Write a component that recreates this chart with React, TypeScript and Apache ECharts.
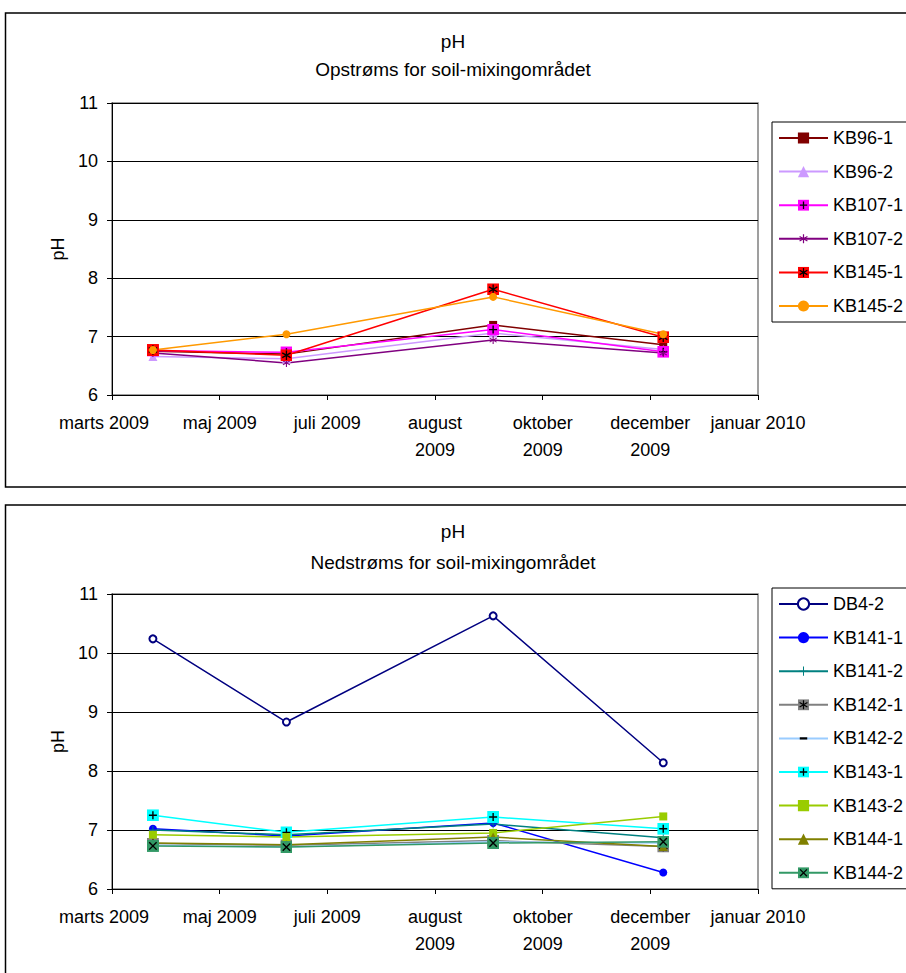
import React, { useEffect, useRef } from 'react';
import * as echarts from 'echarts';

// ---- data ----
const axisStartDate = '2009-03-31';
const tickIntervalDays = 50;
const xTickLabels = ['marts 2009', 'maj 2009', 'juli 2009', 'august\n2009', 'oktober\n2009', 'december\n2009', 'januar 2010'];
const sampleDates = ['2009-04-19', '2009-06-20', '2009-09-24', '2009-12-12'];
const yMin = 6;
const yMax = 11;

const topTitle = 'pH';
const topSubtitle = 'Opstrøms for soil-mixingområdet';
const bottomTitle = 'pH';
const bottomSubtitle = 'Nedstrøms for soil-mixingområdet';
const yAxisName = 'pH';

const topNames = ['KB96-1', 'KB96-2', 'KB107-1', 'KB107-2', 'KB145-1', 'KB145-2'];
const KB96_1 = [6.75, 6.70, 7.20, 6.86];
const KB96_2 = [6.66, 6.62, 7.06, 6.78];
const KB107_1 = [6.76, 6.73, 7.12, 6.74];
const KB107_2 = [6.72, 6.55, 6.94, 6.72];
const KB145_1 = [6.77, 6.68, 7.81, 6.99];
const KB145_2 = [6.77, 7.04, 7.68, 7.04];

const bottomNames = ['DB4-2', 'KB141-1', 'KB141-2', 'KB142-1', 'KB142-2', 'KB143-1', 'KB143-2', 'KB144-1', 'KB144-2'];
const DB4_2 = [10.24, 8.83, 10.63, 8.14];
const KB141_1 = [7.02, 6.90, 7.12, 6.28];
const KB141_2 = [7.00, 6.92, 7.10, 6.87];
const KB142_1 = [6.77, 6.74, 6.82, 6.72];
const KB142_2 = [6.74, 6.71, 6.80, 6.78];
const KB143_1 = [7.25, 6.96, 7.22, 7.02];
const KB143_2 = [6.92, 6.88, 6.95, 7.23];
const KB144_1 = [6.78, 6.75, 6.88, 6.72];
const KB144_2 = [6.73, 6.71, 6.78, 6.80];

// ---- helpers ----
const FONT = 'Liberation Sans, Arial, sans-serif';
const FS = 18;
const TFS = 19;

function dayOffset(d: string): number {
  const [y, m, dd] = d.split('-').map(Number);
  const [y0, m0, d0] = axisStartDate.split('-').map(Number);
  return (Date.UTC(y, m - 1, dd) - Date.UTC(y0, m0 - 1, d0)) / 86400000;
}
const xs = sampleDates.map(dayOffset);
const xMax = tickIntervalDays * (xTickLabels.length - 1);

const svgSym = (body: string) =>
  'image://data:image/svg+xml;charset=utf-8,' +
  encodeURIComponent(`<svg xmlns="http://www.w3.org/2000/svg" width="24" height="24" viewBox="0 0 12 12">${body}</svg>`);

const sq = (c: string) => `<rect x="0" y="0" width="12" height="12" fill="${c}"/>`;
const asterisk = (c: string, w = 1.3) => `<path d="M6 1.2V10.8M1.8 3.6L10.2 8.4M1.8 8.4L10.2 3.6" stroke="${c}" stroke-width="${w}" fill="none"/>`;
const plus = (c: string, w = 1.4, a = 2, b = 10) => `<path d="M6 ${a}V${b}M${a} 6H${b}" stroke="${c}" stroke-width="${w}" fill="none"/>`;
const cross = (c: string) => `<path d="M2.3 2.3L9.7 9.7M2.3 9.7L9.7 2.3" stroke="${c}" stroke-width="1.4" fill="none"/>`;

type Spec = { name: string; data: number[]; color: string; symbol: string; size: number };

const topSpecs: Spec[] = [
  { name: topNames[0], data: KB96_1, color: '#800000', symbol: 'rect', size: 8 },
  { name: topNames[1], data: KB96_2, color: '#CC99FF', symbol: 'triangle', size: 9 },
  { name: topNames[2], data: KB107_1, color: '#FF00FF', symbol: svgSym(sq('#FF00FF') + plus('#000')), size: 12 },
  { name: topNames[3], data: KB107_2, color: '#800080', symbol: svgSym(asterisk('#800080')), size: 10 },
  { name: topNames[4], data: KB145_1, color: '#FF0000', symbol: svgSym(sq('#FF0000') + asterisk('#000')), size: 12 },
  { name: topNames[5], data: KB145_2, color: '#FF9900', symbol: 'circle', size: 8 },
];

const bottomSpecs: Spec[] = [
  { name: bottomNames[0], data: DB4_2, color: '#000080', symbol: 'emptyCircle', size: 7 },
  { name: bottomNames[1], data: KB141_1, color: '#0000FF', symbol: 'circle', size: 8 },
  { name: bottomNames[2], data: KB141_2, color: '#008080', symbol: svgSym(plus('#008080', 1.1, 1, 11)), size: 10 },
  { name: bottomNames[3], data: KB142_1, color: '#808080', symbol: svgSym(sq('#808080') + asterisk('#000')), size: 12 },
  { name: bottomNames[4], data: KB142_2, color: '#99CCFF', symbol: svgSym('<rect x="2" y="4.8" width="8" height="2.4" fill="#000"/>'), size: 10 },
  { name: bottomNames[5], data: KB143_1, color: '#00FFFF', symbol: svgSym(sq('#00FFFF') + plus('#000')), size: 12 },
  { name: bottomNames[6], data: KB143_2, color: '#99CC00', symbol: 'rect', size: 8 },
  { name: bottomNames[7], data: KB144_1, color: '#808000', symbol: 'triangle', size: 9 },
  { name: bottomNames[8], data: KB144_2, color: '#339966', symbol: svgSym(sq('#339966') + cross('#000')), size: 12 },
];

const makeSeries = (specs: Spec[], idx: number) =>
  specs.map((s) => ({
    type: 'line',
    name: s.name,
    xAxisIndex: idx,
    yAxisIndex: idx,
    data: s.data.map((v, i) => [xs[i], v]),
    symbol: s.symbol,
    symbolSize: s.size,
    symbolKeepAspect: true,
    showAllSymbol: true,
    lineStyle: { color: s.color, width: 1.5 },
    itemStyle: { color: s.color, borderColor: s.color, borderWidth: s.symbol === 'emptyCircle' ? 1.5 : 0 },
    emphasis: { disabled: true },
    z: 3,
  }));

const grids = [
  { left: 112, top: 103, width: 646, height: 292 },
  { left: 112, top: 594, width: 646, height: 295 },
];

const makeXAxis = (idx: number) => ({
  type: 'value',
  gridIndex: idx,
  min: 0,
  max: xMax,
  interval: tickIntervalDays,
  axisLine: { show: true, lineStyle: { color: '#000', width: 1 } },
  axisTick: { show: true, length: 5, lineStyle: { color: '#000' } },
  splitLine: { show: false },
  axisLabel: {
    color: '#000',
    fontSize: FS,
    fontFamily: FONT,
    margin: 14,
    lineHeight: 27,
    hideOverlap: false,
    showMinLabel: true,
    showMaxLabel: true,
    formatter: (v: number) => {
      const i = Math.round(v / tickIntervalDays);
      const t = xTickLabels[i] ?? '';
      return i === 0 ? `{first|${t}}` : t;
    },
    rich: {
      first: { color: '#000', fontSize: FS, fontFamily: FONT, lineHeight: 27, padding: [0, 16, 0, 0] },
    },
  },
});

const makeYAxis = (idx: number) => ({
  type: 'value',
  gridIndex: idx,
  min: yMin,
  max: yMax,
  interval: 1,
  name: yAxisName,
  nameLocation: 'middle',
  nameGap: 40,
  nameRotate: 90,
  nameTextStyle: { color: '#000', fontSize: FS, fontFamily: FONT },
  axisLine: { show: true, lineStyle: { color: '#000', width: 1 } },
  axisTick: { show: true, length: 5, lineStyle: { color: '#000' } },
  splitLine: { show: true, lineStyle: { color: '#000', width: 1 } },
  axisLabel: { color: '#000', fontSize: FS, fontFamily: FONT, margin: 14 },
});

const makeLegend = (names: string[], top: number) => ({
  data: names,
  orient: 'vertical',
  left: 772,
  top,
  itemWidth: 49,
  itemHeight: 14,
  itemGap: 15.6,
  padding: [7, 12, 7, 6],
  borderColor: '#000',
  borderWidth: 1,
  selectedMode: false,
  textStyle: { color: '#000', fontSize: FS, fontFamily: FONT, lineHeight: 18 },
});

const titleStyle = { color: '#000', fontSize: TFS, fontWeight: 'normal', fontFamily: FONT };

export default function App() {
  const ref = useRef<HTMLDivElement>(null);
  useEffect(() => {
    if (!ref.current) return;
    const chart = echarts.init(ref.current, undefined, { renderer: 'svg' });
    chart.setOption({
      animation: false,
      backgroundColor: '#fff',
      title: [
        { text: topTitle, left: 'center', top: 32, padding: 0, textStyle: titleStyle },
        { text: topSubtitle, left: 'center', top: 60, padding: 0, textStyle: titleStyle },
        { text: bottomTitle, left: 'center', top: 522, padding: 0, textStyle: titleStyle },
        { text: bottomSubtitle, left: 'center', top: 553, padding: 0, textStyle: titleStyle },
      ],
      graphic: [
        { type: 'rect', shape: { x: 5.5, y: 13, width: 930, height: 474 }, style: { fill: 'none', stroke: '#000', lineWidth: 1.5 }, z: 0, silent: true },
        { type: 'rect', shape: { x: 5.5, y: 505, width: 930, height: 490 }, style: { fill: 'none', stroke: '#000', lineWidth: 1.5 }, z: 0, silent: true },
      ],
      grid: grids.map((g) => ({ ...g, show: true, borderColor: '#808080', borderWidth: 1.5, backgroundColor: 'transparent' })),
      xAxis: [makeXAxis(0), makeXAxis(1)],
      yAxis: [makeYAxis(0), makeYAxis(1)],
      legend: [makeLegend(topNames, 122), makeLegend(bottomNames, 588)],
      tooltip: { show: false },
      series: [...makeSeries(topSpecs, 0), ...makeSeries(bottomSpecs, 1)],
    });
    return () => chart.dispose();
  }, []);
  return (
    <div
      ref={ref}
      style={{ position: 'absolute', left: 0, top: 0, width: 906, height: 973, background: '#fff' }}
    />
  );
}
